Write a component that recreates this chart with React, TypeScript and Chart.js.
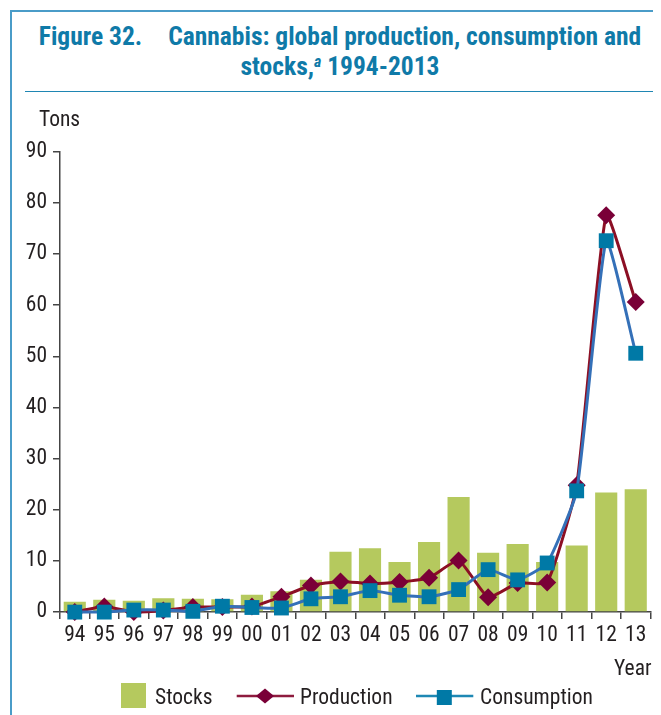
import React, { useEffect, useRef } from "react";
import { Chart, registerables } from "chart.js";

Chart.register(...registerables);

const categories = ["94", "95", "96", "97", "98", "99", "00", "01", "02", "03", "04", "05", "06", "07", "08", "09", "10", "11", "12", "13"];
const stocks = [2.0, 2.4, 2.2, 2.7, 2.6, 2.5, 3.4, 4.1, 6.3, 11.8, 12.5, 9.8, 13.7, 22.5, 11.6, 13.3, 9.8, 13.0, 23.4, 24.0];
const production = [0.0, 1.1, 0.0, 0.3, 1.0, 1.0, 1.1, 3.0, 5.2, 6.0, 5.6, 5.9, 6.7, 10.1, 2.9, 5.7, 5.8, 24.8, 77.6, 60.6];
const consumption = [0.0, 0.0, 0.4, 0.4, 0.15, 1.15, 0.9, 0.8, 2.6, 3.0, 4.2, 3.3, 3.0, 4.4, 8.3, 6.3, 9.6, 23.7, 72.6, 50.6];
const yTicks = [0, 10, 20, 30, 40, 50, 60, 70, 80, 90];
const seriesNames = ["Stocks", "Production", "Consumption"];

const FONT = '"Roboto Condensed", "Liberation Sans Narrow", "DejaVu Sans Condensed", sans-serif';
const FS = 21.5;
const TEXT = "#231f20";
const STOCK_COLOR = "#b5c95e";
const PROD_LINE = "#8c0f24";
const PROD_MARK = "#7a0037";
const CONS_LINE = "#3470b8";
const CONS_MARK = "#0079a6";
const TITLE_COLOR = "#0f7aa8";

export default function App() {
  const ref = useRef<HTMLCanvasElement | null>(null);

  useEffect(() => {
    if (!ref.current) return;
    const textPlugin = {
      id: "axisTexts",
      afterDraw(chart: any) {
        const { ctx, chartArea } = chart;
        ctx.save();
        ctx.fillStyle = TEXT;
        ctx.font = `${FS}px ${FONT}`;
        ctx.textBaseline = "alphabetic";
        ctx.textAlign = "left";
        ctx.fillText("Tons", chartArea.left - 21, chartArea.top - 26);
        ctx.textAlign = "right";
        ctx.fillText("Year", chartArea.right + 1, chartArea.bottom + 63);
        ctx.restore();
      },
    };
    const chart = new Chart(ref.current, {
      type: "bar",
      data: {
        labels: categories,
        datasets: [
          {
            type: "line",
            label: seriesNames[2],
            data: consumption,
            order: 0,
            borderColor: CONS_LINE,
            borderWidth: 3,
            pointStyle: "rect",
            pointRadius: 10.5,
            pointBackgroundColor: CONS_MARK,
            pointBorderColor: CONS_MARK,
            pointBorderWidth: 0,
            tension: 0.15,
            clip: false,
          } as any,
          {
            type: "line",
            label: seriesNames[1],
            data: production,
            order: 1,
            borderColor: PROD_LINE,
            borderWidth: 3,
            pointStyle: "rectRot",
            pointRadius: 9,
            pointBackgroundColor: PROD_MARK,
            pointBorderColor: PROD_MARK,
            pointBorderWidth: 0,
            tension: 0.15,
            clip: false,
          } as any,
          {
            type: "bar",
            label: seriesNames[0],
            data: stocks,
            order: 2,
            backgroundColor: STOCK_COLOR,
            barPercentage: 0.75,
            categoryPercentage: 1,
          } as any,
        ],
      },
      options: {
        animation: false,
        responsive: false,
        maintainAspectRatio: false,
        layout: { padding: { left: 0, top: 143.7, right: 7, bottom: 62.9 } },
        plugins: { legend: { display: false }, tooltip: { enabled: false }, title: { display: false } },
        scales: {
          x: {
            grid: { offset: true, drawOnChartArea: false, drawTicks: true, tickLength: 7, color: "#444", lineWidth: 1.5 },
            border: { display: true, color: "#444", width: 1.5 },
            ticks: { font: { family: FONT, size: FS }, color: TEXT, padding: 4, maxRotation: 0, autoSkip: false },
            afterFit: (s: any) => { s.height = 40; },
          },
          y: {
            min: 0,
            max: 90,
            afterBuildTicks: (s: any) => { s.ticks = yTicks.map((v) => ({ value: v })); },
            grid: { drawOnChartArea: false, drawTicks: true, tickLength: 7, color: "#444", lineWidth: 1.5 },
            border: { display: true, color: "#444", width: 1.5 },
            ticks: { font: { family: FONT, size: FS }, color: TEXT, padding: 6 },
            afterFit: (s: any) => { s.width = 52; },
          },
        },
      } as any,
      plugins: [textPlugin],
    });
    return () => chart.destroy();
  }, []);

  const legendText: React.CSSProperties = {
    position: "absolute",
    fontFamily: FONT,
    fontSize: FS,
    lineHeight: "26px",
    color: TEXT,
    whiteSpace: "nowrap",
    top: 675.5,
  };

  return (
    <div style={{ position: "relative", width: 653, height: 707, fontFamily: FONT }}>
      <div style={{ position: "absolute", left: 1.5, top: 2, width: 2, height: 705, background: "#4a9cc8" }} />
      <div style={{ position: "absolute", left: 1.5, top: 2, width: 651.5, height: 2, background: "#4a9cc8" }} />
      <div style={{ position: "absolute", left: 17, top: 82.5, width: 632, height: 1.5, background: "#1f86b3" }} />
      <div
        style={{
          position: "absolute",
          left: 17,
          top: 14,
          width: 630,
          textAlign: "center",
          fontFamily: FONT,
          fontWeight: "bold",
          fontSize: 25.5,
          lineHeight: "29.5px",
          color: TITLE_COLOR,
          whiteSpace: "nowrap",
        }}
      >
        <div>
          Figure 32.<span style={{ display: "inline-block", width: 26 }} />Cannabis: global production, consumption and
        </div>
        <div>
          stocks,<sup style={{ fontStyle: "italic", fontSize: 16, verticalAlign: "top", lineHeight: "20px" }}>a</sup> 1994-2013
        </div>
      </div>
      <canvas ref={ref} width={653} height={707} style={{ position: "absolute", left: 0, top: 0, width: 653, height: 707 }} />
      <svg width={653} height={707} style={{ position: "absolute", left: 0, top: 0, pointerEvents: "none" }}>
        <rect x={113} y={675} width={25} height={25} fill={STOCK_COLOR} />
        <line x1={228.7} y1={688} x2={286} y2={688} stroke="#8e1b3e" strokeWidth={2.5} />
        <polygon points="248,688 257,680.5 266,688 257,695.5" fill={PROD_MARK} />
        <line x1={408} y1={688} x2={465.3} y2={688} stroke="#1e88b4" strokeWidth={2.5} />
        <rect x={428.8} y={682} width={15} height={15} fill={CONS_MARK} />
      </svg>
      <div style={{ ...legendText, left: 147 }}>{seriesNames[0]}</div>
      <div style={{ ...legendText, left: 292 }}>{seriesNames[1]}</div>
      <div style={{ ...legendText, left: 472 }}>{seriesNames[2]}</div>
    </div>
  );
}
